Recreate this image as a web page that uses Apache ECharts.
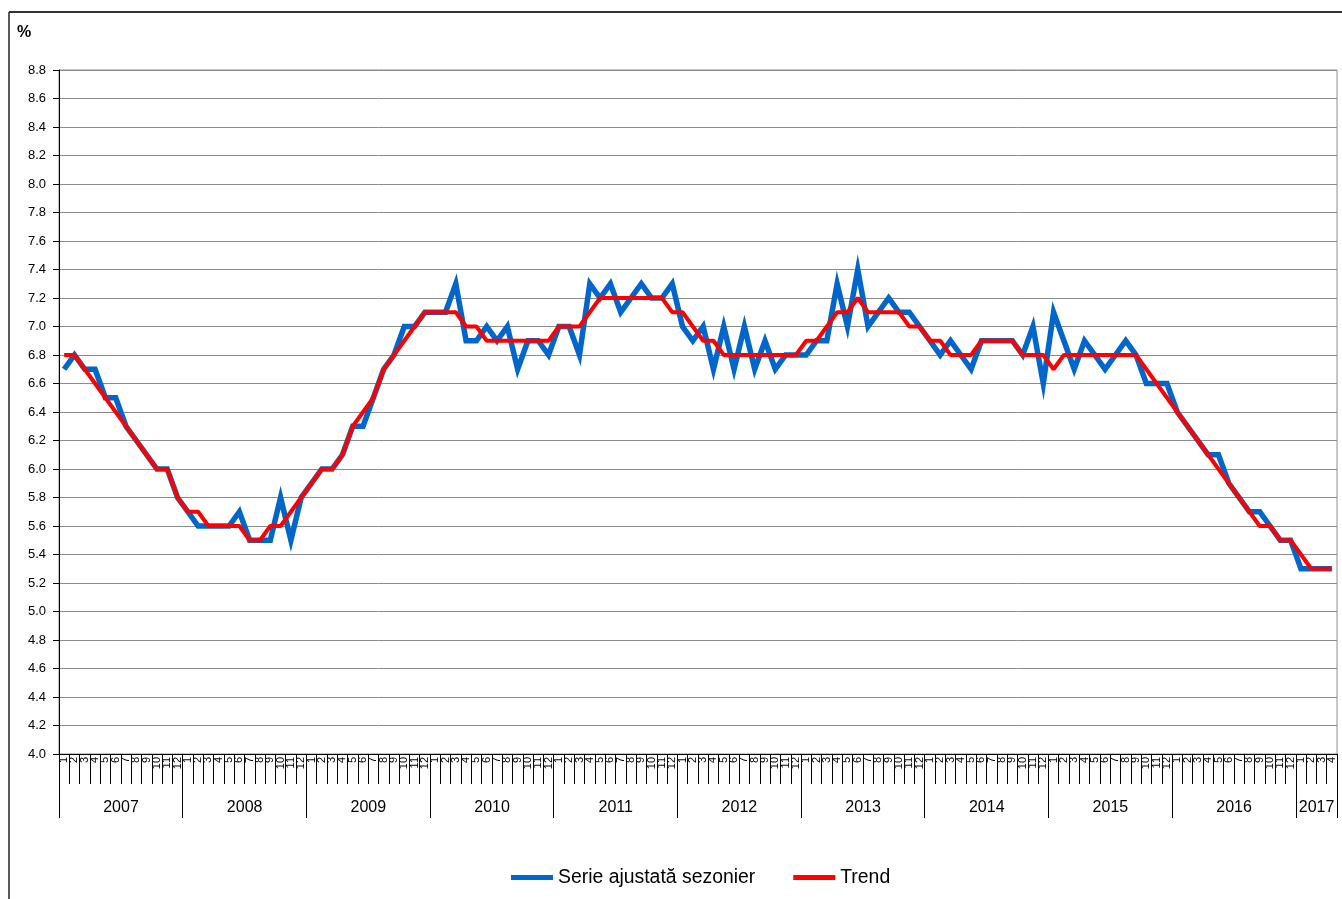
<!DOCTYPE html>
<html>
<head>
<meta charset="utf-8">
<script src="https://cdn.jsdelivr.net/npm/echarts@6/dist/echarts.min.js"></script>
<style>html,body{margin:0;padding:0;background:#fff;}#c{width:1342px;height:899px;}</style>
</head>
<body>
<div id="c"></div>
<script>
// ---- data ----
const years = ['2007','2008','2009','2010','2011','2012','2013','2014','2015','2016','2017'];
const monthsInYear = [12,12,12,12,12,12,12,12,12,12,4];
const yTicks = {min: 4.0, max: 8.8, step: 0.2};

const seriesNameSA = 'Serie ajustată sezonier';
const seriesNameTrend = 'Trend';

const sa = [
  6.7, 6.8, 6.7, 6.7, 6.5, 6.5, 6.3, 6.2, 6.1, 6.0, 6.0, 5.8,
  5.7, 5.6, 5.6, 5.6, 5.6, 5.7, 5.5, 5.5, 5.5, 5.8, 5.5, 5.8,
  5.9, 6.0, 6.0, 6.1, 6.3, 6.3, 6.5, 6.7, 6.8, 7.0, 7.0, 7.1,
  7.1, 7.1, 7.3, 6.9, 6.9, 7.0, 6.9, 7.0, 6.7, 6.9, 6.9, 6.8,
  7.0, 7.0, 6.8, 7.3, 7.2, 7.3, 7.1, 7.2, 7.3, 7.2, 7.2, 7.3,
  7.0, 6.9, 7.0, 6.7, 7.0, 6.7, 7.0, 6.7, 6.9, 6.7, 6.8, 6.8,
  6.8, 6.9, 6.9, 7.3, 7.0, 7.4, 7.0, 7.1, 7.2, 7.1, 7.1, 7.0,
  6.9, 6.8, 6.9, 6.8, 6.7, 6.9, 6.9, 6.9, 6.9, 6.8, 7.0, 6.6,
  7.1, 6.9, 6.7, 6.9, 6.8, 6.7, 6.8, 6.9, 6.8, 6.6, 6.6, 6.6,
  6.4, 6.3, 6.2, 6.1, 6.1, 5.9, 5.8, 5.7, 5.7, 5.6, 5.5, 5.5,
  5.3, 5.3, 5.3, 5.3
];
const trend = [
  6.8, 6.8, 6.7, 6.6, 6.5, 6.4, 6.3, 6.2, 6.1, 6.0, 6.0, 5.8,
  5.7, 5.7, 5.6, 5.6, 5.6, 5.6, 5.5, 5.5, 5.6, 5.6, 5.7, 5.8,
  5.9, 6.0, 6.0, 6.1, 6.3, 6.4, 6.5, 6.7, 6.8, 6.9, 7.0, 7.1,
  7.1, 7.1, 7.1, 7.0, 7.0, 6.9, 6.9, 6.9, 6.9, 6.9, 6.9, 6.9,
  7.0, 7.0, 7.0, 7.1, 7.2, 7.2, 7.2, 7.2, 7.2, 7.2, 7.2, 7.1,
  7.1, 7.0, 6.9, 6.9, 6.8, 6.8, 6.8, 6.8, 6.8, 6.8, 6.8, 6.8,
  6.9, 6.9, 7.0, 7.1, 7.1, 7.2, 7.1, 7.1, 7.1, 7.1, 7.0, 7.0,
  6.9, 6.9, 6.8, 6.8, 6.8, 6.9, 6.9, 6.9, 6.9, 6.8, 6.8, 6.8,
  6.7, 6.8, 6.8, 6.8, 6.8, 6.8, 6.8, 6.8, 6.8, 6.7, 6.6, 6.5,
  6.4, 6.3, 6.2, 6.1, 6.0, 5.9, 5.8, 5.7, 5.6, 5.6, 5.5, 5.5,
  5.4, 5.3, 5.3, 5.3
];

// ---- build categories (year|month) ----
const categories = [];
const yearMid = {};
years.forEach((y, k) => {
  const n = monthsInYear[k];
  for (let m = 1; m <= n; m++) categories.push(y + '|' + m);
  yearMid[y] = Math.floor(n / 2) + 1;
});

const FONT = 'Arial, "Liberation Sans", sans-serif';
const chart = echarts.init(document.getElementById('c'), null, {renderer: 'canvas'});

chart.setOption({
  animation: false,
  backgroundColor: '#fff',
  grid: {left: 59, right: 5, top: 70, bottom: 145, show: true, borderColor: '#8c8c8c', borderWidth: 1, containLabel: false},
  legend: {
    left: 506, top: 863,
    itemWidth: 42, itemHeight: 5, itemGap: 38,
    icon: 'rect',
    textStyle: {fontFamily: FONT, fontSize: 19.4, color: '#000'},
    data: [seriesNameSA, seriesNameTrend]
  },
  xAxis: [
    {
      type: 'category', data: categories, boundaryGap: true,
      axisLine: {show: true, lineStyle: {color: '#000', width: 1}},
      axisTick: {show: true, interval: 0, length: 30, lineStyle: {color: '#000'}},
      axisLabel: {
        interval: 0, rotate: 90, margin: 3, fontSize: 11, color: '#000', fontFamily: FONT,
        formatter: v => v.split('|')[1]
      },
      splitLine: {show: false}
    },
    {
      type: 'category', data: categories, boundaryGap: true, position: 'bottom',
      axisLine: {show: false},
      axisTick: {show: true, length: 64, lineStyle: {color: '#000'},
        interval: (i, v) => v.split('|')[1] === '1'},
      axisLabel: {
        margin: 46, fontSize: 16, color: '#000', fontFamily: FONT,
        padding: [0, 10, 0, 0],
        interval: (i, v) => { const p = v.split('|'); return +p[1] === yearMid[p[0]]; },
        formatter: v => v.split('|')[0]
      },
      splitLine: {show: false}
    }
  ],
  yAxis: {
    type: 'value', min: yTicks.min, max: yTicks.max, interval: yTicks.step,
    axisLine: {show: true, lineStyle: {color: '#000'}},
    axisTick: {show: true, length: 6, lineStyle: {color: '#000'}},
    axisLabel: {fontSize: 13, color: '#000', fontFamily: FONT, margin: 13, formatter: v => v.toFixed(1)},
    splitLine: {show: true, lineStyle: {color: '#8c8c8c', width: 1}}
  },
  graphic: [
    {type: 'line', shape: {x1: 9, y1: 12, x2: 1342, y2: 12}, style: {stroke: '#333', lineWidth: 2}},
    {type: 'line', shape: {x1: 9, y1: 12, x2: 9, y2: 899}, style: {stroke: '#222', lineWidth: 1.5}},
    {type: 'text', left: 17, top: 25, style: {text: '%', font: 'bold 16px ' + FONT, fill: '#000'}}
  ],
  series: [
    {
      name: seriesNameSA, type: 'line', data: sa, showSymbol: false, symbol: 'none',
      lineStyle: {color: '#0066CC', width: 5.5, join: 'miter'}, itemStyle: {color: '#0066CC'}, z: 2
    },
    {
      name: seriesNameTrend, type: 'line', data: trend, showSymbol: false, symbol: 'none',
      lineStyle: {color: '#FF0000', width: 4}, itemStyle: {color: '#FF0000'}, z: 3
    }
  ]
});
</script>
</body>
</html>
